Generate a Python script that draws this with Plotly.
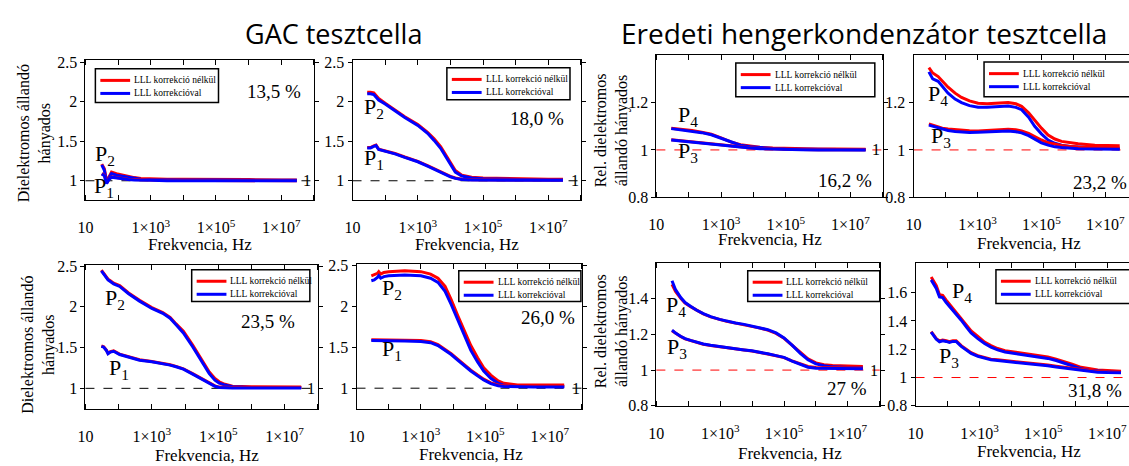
import plotly.graph_objects as go

W, H = 1129, 466
SERIF = "Liberation Serif, Times New Roman, serif"
SANS = "Open Sans, Lato, sans-serif"
RED = "#ff0000"
BLUE = "#0000ff"

# ---------------- data (frequency given as log10(Hz)) ----------------
# Panel 1: GAC, 13,5 %
lf_1 = [1.5, 1.58, 1.65, 1.72, 1.8, 1.95, 2.1, 2.3, 2.5, 2.7, 3.0, 3.5, 4.0, 5.0, 6.0, 7.0, 7.48]
p2_red_1 = [1.21, 1.15, 0.99, 1.05, 1.11, 1.09, 1.075, 1.055, 1.04, 1.03, 1.025, 1.02, 1.02, 1.02, 1.015, 1.01, 1.01]
p2_blue_1 = [1.20, 1.13, 0.98, 1.04, 1.09, 1.07, 1.06, 1.04, 1.03, 1.02, 1.015, 1.01, 1.01, 1.01, 1.01, 1.005, 1.005]
p1_red_1 = [1.09, 1.07, 0.97, 1.02, 1.05, 1.04, 1.03, 1.02, 1.015, 1.01, 1.01, 1.005, 1.005, 1.0, 1.0, 1.0, 1.0]
p1_blue_1 = [1.085, 1.065, 0.965, 1.015, 1.045, 1.035, 1.025, 1.015, 1.01, 1.005, 1.005, 1.0, 1.0, 1.0, 1.0, 1.0, 1.0]

# Panel 2: GAC, 18,0 %
lf_2 = [1.45, 1.55, 1.65, 1.72, 1.8, 2.0, 2.3, 2.6, 3.0, 3.3, 3.5, 3.7, 3.85, 4.0, 4.15, 4.35, 4.65, 5.0, 5.5, 6.0, 6.5, 7.0, 7.45]
p2_red_2 = [2.12, 2.12, 2.11, 2.08, 2.04, 1.98, 1.89, 1.81, 1.71, 1.61, 1.53, 1.43, 1.33, 1.23, 1.13, 1.07, 1.045, 1.035, 1.03, 1.03, 1.025, 1.02, 1.02]
p2_blue_2 = [2.10, 2.10, 2.09, 2.06, 2.02, 1.97, 1.88, 1.80, 1.70, 1.60, 1.51, 1.41, 1.31, 1.21, 1.11, 1.06, 1.035, 1.025, 1.02, 1.02, 1.015, 1.01, 1.01]
p1_red_2 = [1.42, 1.42, 1.44, 1.45, 1.40, 1.38, 1.345, 1.30, 1.245, 1.19, 1.15, 1.11, 1.08, 1.055, 1.035, 1.02, 1.012, 1.01, 1.01, 1.01, 1.01, 1.01, 1.01]
p1_blue_2 = [1.415, 1.415, 1.435, 1.445, 1.395, 1.375, 1.34, 1.295, 1.24, 1.185, 1.145, 1.105, 1.075, 1.05, 1.03, 1.015, 1.008, 1.005, 1.005, 1.005, 1.005, 1.005, 1.005]

# Panel 3: hengerkondenzátor, 16,2 %
lf_3 = [1.46, 1.8, 2.1, 2.4, 2.7, 3.0, 3.3, 3.6, 3.9, 4.2, 4.6, 5.0, 5.5, 6.0, 6.5, 7.0, 7.47]
p4_red_3 = [1.092, 1.087, 1.082, 1.075, 1.066, 1.051, 1.034, 1.022, 1.015, 1.011, 1.008, 1.006, 1.005, 1.004, 1.004, 1.003, 1.003]
p4_blue_3 = [1.09, 1.085, 1.08, 1.073, 1.064, 1.049, 1.032, 1.02, 1.013, 1.009, 1.006, 1.004, 1.003, 1.002, 1.002, 1.001, 1.001]
p3_red_3 = [1.043, 1.038, 1.033, 1.029, 1.025, 1.021, 1.016, 1.012, 1.009, 1.006, 1.004, 1.003, 1.002, 1.001, 1.001, 1.001, 1.001]
p3_blue_3 = [1.042, 1.037, 1.032, 1.028, 1.024, 1.02, 1.015, 1.011, 1.008, 1.005, 1.003, 1.002, 1.001, 1.0, 1.0, 1.0, 1.0]

# Panel 4: hengerkondenzátor, 23,2 %
lf_4 = [1.48, 1.6, 1.77, 1.9, 2.08, 2.3, 2.5, 2.75, 3.02, 3.3, 3.54, 3.75, 3.96, 4.2, 4.38, 4.6, 4.79, 5.0, 5.21, 5.42, 5.63, 5.9, 6.15, 6.67, 7.2, 7.45]
p4_red_4 = [1.348, 1.325, 1.31, 1.29, 1.265, 1.24, 1.222, 1.207, 1.197, 1.195, 1.197, 1.199, 1.2, 1.195, 1.184, 1.157, 1.124, 1.092, 1.063, 1.046, 1.036, 1.03, 1.026, 1.02, 1.018, 1.018]
p4_blue_4 = [1.33, 1.30, 1.29, 1.27, 1.24, 1.215, 1.20, 1.187, 1.18, 1.18, 1.182, 1.184, 1.186, 1.18, 1.17, 1.138, 1.10, 1.068, 1.042, 1.028, 1.02, 1.015, 1.012, 1.008, 1.006, 1.005]
p3_red_4 = [1.11, 1.105, 1.097, 1.092, 1.088, 1.085, 1.083, 1.081, 1.08, 1.082, 1.085, 1.087, 1.087, 1.085, 1.08, 1.07, 1.056, 1.042, 1.03, 1.023, 1.019, 1.015, 1.012, 1.01, 1.008, 1.008]
p3_blue_4 = [1.105, 1.10, 1.092, 1.087, 1.082, 1.078, 1.076, 1.074, 1.075, 1.077, 1.08, 1.081, 1.08, 1.077, 1.072, 1.06, 1.045, 1.03, 1.02, 1.013, 1.01, 1.007, 1.005, 1.004, 1.003, 1.003]

# Panel 5: GAC, 23,5 %
lf_5 = [1.48, 1.55, 1.63, 1.68, 1.75, 1.85, 2.03, 2.3, 2.63, 3.0, 3.33, 3.55, 3.73, 3.95, 4.23, 4.5, 4.73, 4.9, 5.03, 5.2, 5.43, 6.0, 6.5, 7.0, 7.5]
p2_red_5 = [2.45, 2.41, 2.36, 2.34, 2.32, 2.29, 2.26, 2.17, 2.08, 1.99, 1.93, 1.87, 1.79, 1.70, 1.53, 1.35, 1.20, 1.12, 1.08, 1.05, 1.025, 1.02, 1.02, 1.02, 1.015]
p2_blue_5 = [2.44, 2.40, 2.35, 2.33, 2.31, 2.28, 2.25, 2.16, 2.07, 1.98, 1.92, 1.86, 1.78, 1.68, 1.51, 1.33, 1.18, 1.10, 1.065, 1.04, 1.02, 1.01, 1.01, 1.01, 1.01]
p1_red_5 = [1.52, 1.51, 1.47, 1.43, 1.45, 1.46, 1.42, 1.39, 1.35, 1.33, 1.31, 1.29, 1.27, 1.24, 1.18, 1.12, 1.06, 1.03, 1.015, 1.01, 1.01, 1.01, 1.01, 1.01, 1.01]
p1_blue_5 = [1.515, 1.505, 1.465, 1.425, 1.445, 1.455, 1.415, 1.385, 1.345, 1.325, 1.305, 1.285, 1.265, 1.235, 1.175, 1.115, 1.055, 1.025, 1.01, 1.005, 1.005, 1.005, 1.005, 1.005, 1.005]

# Panel 6: GAC, 26,0 %
lf_6 = [1.46, 1.55, 1.65, 1.69, 1.75, 1.85, 2.0, 2.5, 3.0, 3.3, 3.53, 3.75, 3.94, 4.15, 4.35, 4.55, 4.76, 4.95, 5.17, 5.4, 5.58, 6.0, 6.5, 7.0, 7.45]
p2_red_6 = [2.37, 2.38, 2.40, 2.42, 2.39, 2.41, 2.42, 2.43, 2.42, 2.39, 2.34, 2.24, 2.08, 1.88, 1.69, 1.52, 1.37, 1.25, 1.16, 1.09, 1.06, 1.04, 1.04, 1.04, 1.04]
p2_blue_6 = [2.31, 2.32, 2.35, 2.37, 2.34, 2.36, 2.37, 2.38, 2.37, 2.34, 2.29, 2.18, 2.02, 1.82, 1.63, 1.46, 1.32, 1.21, 1.12, 1.06, 1.035, 1.02, 1.02, 1.02, 1.02]
p1_red_6 = [1.59, 1.59, 1.59, 1.59, 1.59, 1.59, 1.59, 1.585, 1.58, 1.565, 1.53, 1.47, 1.42, 1.35, 1.28, 1.22, 1.16, 1.11, 1.065, 1.04, 1.03, 1.025, 1.025, 1.025, 1.025]
p1_blue_6 = [1.58, 1.58, 1.58, 1.58, 1.58, 1.58, 1.58, 1.575, 1.57, 1.555, 1.52, 1.46, 1.41, 1.34, 1.27, 1.21, 1.15, 1.10, 1.055, 1.03, 1.02, 1.015, 1.015, 1.015, 1.015]

# Panel 7: hengerkondenzátor, 27 %
lf_7 = [1.49, 1.6, 1.77, 1.9, 2.07, 2.25, 2.47, 2.7, 2.98, 3.2, 3.48, 3.75, 3.99, 4.25, 4.49, 4.75, 5.0, 5.25, 5.51, 5.75, 6.0, 6.25, 6.52, 7.0, 7.47]
p4_red_7 = [1.48, 1.44, 1.40, 1.375, 1.355, 1.335, 1.315, 1.298, 1.283, 1.273, 1.263, 1.254, 1.245, 1.235, 1.224, 1.205, 1.178, 1.14, 1.096, 1.063, 1.04, 1.03, 1.026, 1.022, 1.02]
p4_blue_7 = [1.50, 1.45, 1.405, 1.378, 1.357, 1.336, 1.316, 1.299, 1.284, 1.274, 1.264, 1.256, 1.247, 1.238, 1.226, 1.208, 1.18, 1.14, 1.094, 1.058, 1.035, 1.024, 1.018, 1.015, 1.013]
p3_red_7 = [1.22, 1.205, 1.187, 1.175, 1.165, 1.155, 1.145, 1.138, 1.13, 1.124, 1.118, 1.112, 1.107, 1.10, 1.09, 1.08, 1.07, 1.052, 1.033, 1.02, 1.014, 1.013, 1.012, 1.012, 1.012]
p3_blue_7 = [1.224, 1.207, 1.188, 1.176, 1.166, 1.156, 1.146, 1.139, 1.131, 1.125, 1.119, 1.113, 1.108, 1.101, 1.091, 1.081, 1.071, 1.05, 1.03, 1.016, 1.01, 1.009, 1.008, 1.008, 1.008]

# Panel 8: hengerkondenzátor, 31,8 %
lf_8 = [1.49, 1.57, 1.65, 1.75, 1.85, 1.96, 2.06, 2.17, 2.27, 2.43, 2.6, 2.74, 2.95, 3.16, 3.36, 3.57, 3.8, 4.09, 4.35, 4.61, 4.9, 5.14, 5.4, 5.66, 5.9, 6.18, 6.45, 6.7, 7.0, 7.43]
p4_red_8 = [1.71, 1.68, 1.65, 1.585, 1.58, 1.547, 1.52, 1.49, 1.46, 1.42, 1.37, 1.33, 1.29, 1.25, 1.225, 1.205, 1.19, 1.18, 1.17, 1.163, 1.155, 1.145, 1.13, 1.113, 1.095, 1.072, 1.06, 1.054, 1.05, 1.045]
p4_blue_8 = [1.69, 1.66, 1.63, 1.57, 1.565, 1.53, 1.505, 1.475, 1.445, 1.405, 1.355, 1.315, 1.275, 1.24, 1.215, 1.195, 1.18, 1.17, 1.16, 1.153, 1.145, 1.135, 1.12, 1.10, 1.08, 1.062, 1.05, 1.045, 1.04, 1.035]
p3_red_8 = [1.325, 1.30, 1.275, 1.258, 1.265, 1.26, 1.253, 1.26, 1.26, 1.225, 1.195, 1.175, 1.155, 1.14, 1.13, 1.125, 1.12, 1.115, 1.108, 1.10, 1.094, 1.088, 1.08, 1.072, 1.063, 1.054, 1.048, 1.043, 1.04, 1.038]
p3_blue_8 = [1.32, 1.295, 1.27, 1.253, 1.26, 1.255, 1.248, 1.255, 1.255, 1.22, 1.19, 1.17, 1.15, 1.135, 1.125, 1.12, 1.115, 1.11, 1.103, 1.095, 1.089, 1.083, 1.075, 1.067, 1.058, 1.049, 1.043, 1.038, 1.035, 1.033]

legend_names = ["LLL korrekció nélkül", "LLL korrekcióval"]
percent_labels = ["13,5 %", "18,0 %", "16,2 %", "23,2 %", "23,5 %", "26,0 %", "27 %", "31,8 %"]
x_tickvals = [1e1, 1e3, 1e5, 1e7]
x_ticktext = ["10", "1×10<sup>3</sup>", "1×10<sup>5</sup>", "1×10<sup>7</sup>"]
x_minor_vals = [1e1, 1e2, 1e3, 1e4, 1e5, 1e6, 1e7, 1e8]

# ---------------- panel layout (pixel boxes) ----------------
panels = [
    dict(lf=lf_1, curves=[("P2", p2_red_1, p2_blue_1), ("P1", p1_red_1, p1_blue_1)],
         box=(78, 308, 55, 200), xr=[1, 8], yr=[0.755, 2.525], yt=[1, 1.5, 2, 2.5], ref="black"),
    dict(lf=lf_2, curves=[("P2", p2_red_2, p2_blue_2), ("P1", p1_red_2, p1_blue_2)],
         box=(347, 577, 55, 200), xr=[1, 8], yr=[0.755, 2.525], yt=[1, 1.5, 2, 2.5], ref="black"),
    dict(lf=lf_3, curves=[("P4", p4_red_3, p4_blue_3), ("P3", p3_red_3, p3_blue_3)],
         box=(653, 881, 50, 197), xr=[1, 8], yr=[0.8, 1.4], yt=[0.8, 1, 1.2], ref="red"),
    dict(lf=lf_4, curves=[("P4", p4_red_4, p4_blue_4), ("P3", p3_red_4, p3_blue_4)],
         box=(912, 1129, 50, 197), xr=[1, 7.74], yr=[0.8, 1.4], yt=[0.8, 1, 1.2], ref="red", clip=True),
    dict(lf=lf_5, curves=[("P2", p2_red_5, p2_blue_5), ("P1", p1_red_5, p1_blue_5)],
         box=(78, 312, 267, 416), xr=[1, 8], yr=[0.75, 2.515], yt=[1, 1.5, 2, 2.5], ref="black"),
    dict(lf=lf_6, curves=[("P2", p2_red_6, p2_blue_6), ("P1", p1_red_6, p1_blue_6)],
         box=(351, 578, 266, 416), xr=[1, 8], yr=[0.75, 2.515], yt=[1, 1.5, 2, 2.5], ref="black"),
    dict(lf=lf_7, curves=[("P4", p4_red_7, p4_blue_7), ("P3", p3_red_7, p3_blue_7)],
         box=(653, 878, 265, 413), xr=[1, 8], yr=[0.8, 1.6], yt=[0.8, 1, 1.2, 1.4], ref="red"),
    dict(lf=lf_8, curves=[("P4", p4_red_8, p4_blue_8), ("P3", p3_red_8, p3_blue_8)],
         box=(914, 1129, 265, 413), xr=[1, 7.68], yr=[0.8, 1.81], yt=[0.8, 1, 1.2, 1.4, 1.6], ref="red", clip=True),
]

# legend boxes in pixels: (left, top, right, bottom)
legend_boxes = [(88, 64, 212, 99), (442, 63, 566, 96), (733, 58, 873, 93), (983, 57, 1131, 93),
                (185, 272, 304, 305), (454, 273, 577, 305), (745, 273, 878, 305), (995, 272, 1131, 307)]
percent_pos = [(268, 87), (533, 115), (843, 180), (1100, 182), (262, 326), (544, 322), (845, 395), (1095, 397)]
plabel_pos = [
    [(98, 153), (97, 186)],
    [(369, 105), (369, 157)],
    [(685, 113), (685, 150)],
    [(937, 91), (940, 135)],
    [(108, 302), (112, 375)],
    [(387, 292), (387, 355)],
    [(673, 310), (674, 353)],
    [(961, 295), (948, 362)],
]
xlabel_pos = [(193, 246), (462, 246), (767, 241), (1028, 245), (200, 464), (466, 463), (788, 462), (1028, 460)]


def px(x):
    return x / W


def py(y):
    return 1 - y / H


fig = go.Figure()
layout = dict(width=W, height=H, margin=dict(l=0, r=0, t=0, b=0),
              paper_bgcolor="white", plot_bgcolor="white", showlegend=False)
shapes = []
annotations = []

for i, p in enumerate(panels, start=1):
    s = "" if i == 1 else str(i)
    freqs = [10 ** v for v in p["lf"]]
    for k, (lab, red, blue) in enumerate(p["curves"]):
        fig.add_trace(go.Scatter(x=freqs, y=red, mode="lines", name=legend_names[0],
                                 line=dict(color=RED, width=3), xaxis="x" + s, yaxis="y" + s))
        fig.add_trace(go.Scatter(x=freqs, y=blue, mode="lines", name=legend_names[1],
                                 line=dict(color=BLUE, width=3), xaxis="x" + s, yaxis="y" + s))
    x0, x1, y0, y1 = p["box"]
    clip = p.get("clip", False)
    layout["xaxis" + s] = dict(
        type="log", range=p["xr"], domain=[px(x0), px(x1)], anchor="y" + s,
        showline=True, linecolor="black", linewidth=1, mirror="ticks",
        # transparent outside major ticks push the labels down; visible inside ticks are the minor ones
        ticks="outside", ticklen=13, tickcolor="rgba(0,0,0,0)",
        tickvals=x_tickvals, ticktext=x_ticktext, showgrid=False, zeroline=False,
        minor=dict(tickvals=x_minor_vals, ticks="inside", ticklen=5, tickcolor="black", showgrid=False),
        tickfont=dict(family=SERIF, size=16, color="black"),
    )
    layout["yaxis" + s] = dict(
        range=p["yr"], domain=[py(y1), py(y0)], anchor="x" + s,
        showline=True, linecolor="black", linewidth=1, mirror=(False if clip else "ticks"),
        ticks="outside", ticklen=4, tickcolor="black",
        tickvals=p["yt"], ticktext=[("%g" % v) for v in p["yt"]],
        showgrid=False, zeroline=False,
        tickfont=dict(family=SERIF, size=16, color="black"),
    )
    shapes.append(dict(type="line", xref=f"x{s} domain", yref="y" + s, x0=0, x1=1, y0=1, y1=1,
                       line=dict(color=p["ref"], width=1, dash="dash"), layer="below"))

    # legend box (drawn as in the original figure)
    bl, bt, br, bb = legend_boxes[i - 1]
    shapes.append(dict(type="rect", xref="paper", yref="paper", x0=px(bl), x1=px(br), y0=py(bb), y1=py(bt),
                       line=dict(color="black", width=1.5), fillcolor="white", layer="above"))
    for row, (nm, col) in enumerate(zip(legend_names, [RED, BLUE])):
        ry = bt + 12 + row * 13.5
        shapes.append(dict(type="line", xref="paper", yref="paper", x0=px(bl + 5), x1=px(bl + 35),
                           y0=py(ry), y1=py(ry), line=dict(color=col, width=3), layer="above"))
        annotations.append(dict(text=nm, x=px(bl + 37), y=py(ry), xref="paper", yref="paper",
                                showarrow=False, xanchor="left", yanchor="middle",
                                font=dict(family=SERIF, size=9.5, color="black")))

    tx, ty = percent_pos[i - 1]
    annotations.append(dict(text=percent_labels[i - 1], x=px(tx), y=py(ty), xref="paper", yref="paper",
                            showarrow=False, xanchor="center", yanchor="middle",
                            font=dict(family=SERIF, size=19, color="black")))
    for (lab, _, _), (lxp, lyp) in zip(p["curves"], plabel_pos[i - 1]):
        annotations.append(dict(text=f"{lab[0]}<sub>{lab[1]}</sub>", x=px(lxp), y=py(lyp),
                                xref="paper", yref="paper", showarrow=False,
                                xanchor="center", yanchor="middle",
                                font=dict(family=SERIF, size=22, color="black")))
    if not clip:
        annotations.append(dict(text="1", x=0.972, y=1, xref=f"x{s} domain", yref="y" + s,
                                showarrow=False, xanchor="center", yanchor="middle",
                                font=dict(family=SERIF, size=16, color="black")))
    ax, ay = xlabel_pos[i - 1]
    annotations.append(dict(text="Frekvencia, Hz", x=px(ax), y=py(ay), xref="paper", yref="paper",
                            showarrow=False, xanchor="center", yanchor="middle",
                            font=dict(family=SERIF, size=17, color="black")))

for (txt, cx, cy) in [("Dielektromos állandó<br>hányados", 27, 131),
                      ("Dielektromos állandó<br>hányados", 31, 350),
                      ("Rel. dielektromos<br>állandó hányados", 608, 128),
                      ("Rel. dielektromos<br>állandó hányados", 608, 336)]:
    annotations.append(dict(text=txt, x=px(cx), y=py(cy), xref="paper", yref="paper",
                            showarrow=False, textangle=-90, xanchor="center", yanchor="middle",
                            font=dict(family=SERIF, size=16, color="black")))

annotations.append(dict(text="GAC tesztcella", x=px(328), y=py(27), xref="paper", yref="paper",
                        showarrow=False, xanchor="center", yanchor="middle",
                        font=dict(family=SANS, size=27, color="black")))
annotations.append(dict(text="Eredeti hengerkondenzátor tesztcella", x=px(862), y=py(27), xref="paper",
                        yref="paper", showarrow=False, xanchor="center", yanchor="middle",
                        font=dict(family=SANS, size=28, color="black")))

layout["shapes"] = shapes
layout["annotations"] = annotations
fig.update_layout(**layout)
fig.write_html("out.html")
